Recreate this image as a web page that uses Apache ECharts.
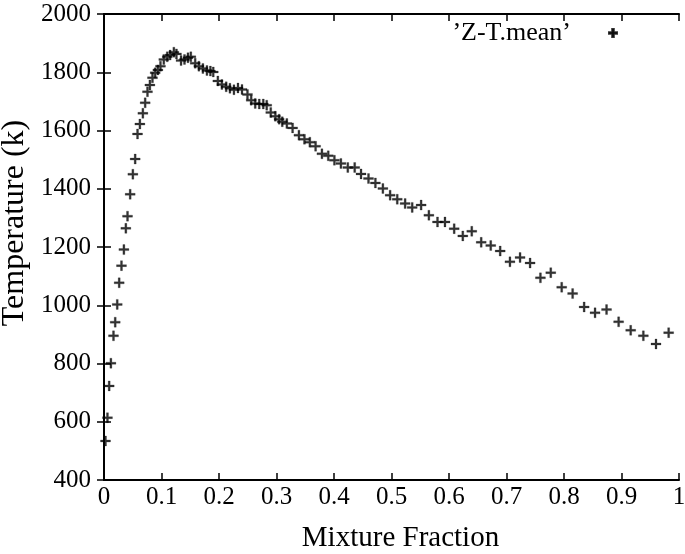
<!DOCTYPE html>
<html>
<head>
<meta charset="utf-8">
<script src="https://cdn.jsdelivr.net/npm/echarts@6/dist/echarts.min.js"></script>
<style>html,body{margin:0;padding:0;background:#fff;}#c{width:685px;height:554px;}</style>
</head>
<body>
<div id="c"></div>
<script>
const seriesName = '\u2019Z-T.mean\u2019';
const xTitle = 'Mixture Fraction';
const yTitle = 'Temperature (k)';
const mixtureFraction = [
0.0026,0.006,0.009,0.012,0.0165,0.0195,0.023,0.0264,0.0304,0.0346,0.038,0.0409,0.0455,0.0502,0.0542,0.0583,0.0624,0.0676,0.0716,0.0756,0.0798,0.0843,0.089,0.0937,0.0982,0.104,0.11,0.115,0.1215,0.126,0.134,0.14,0.146,0.151,0.1586,0.165,0.172,0.179,0.185,0.19,0.198,0.205,0.2125,0.219,0.226,0.233,0.24,0.2495,0.256,0.263,0.27,0.277,0.283,0.29,0.298,0.3046,0.31,0.318,0.328,0.339,0.3486,0.358,0.368,0.379,0.39,0.4007,0.412,0.424,0.436,0.447,0.46,0.472,0.485,0.4976,0.51,0.5237,0.536,0.5515,0.565,0.58,0.593,0.609,0.624,0.6396,0.656,0.6726,0.689,0.706,0.7236,0.741,0.759,0.777,0.796,0.815,0.835,0.854,0.874,0.895,0.916,0.938,0.96,0.982
];
const temperature = [
534,614,723,801,895,942,1003,1077,1136,1191,1264,1306,1381,1450,1502,1588,1622,1659,1695,1733,1756,1781,1798,1808,1821,1844,1853,1859,1869,1863,1840,1844,1850,1853,1831,1821,1813,1806,1804,1801,1770,1758,1750,1745,1740,1746,1741,1724,1704,1693,1691,1691,1687,1662,1649,1639,1630,1624,1609,1584,1570,1560,1546,1520,1513,1498,1487,1473,1473,1451,1435,1420,1401,1378,1364,1349,1336,1344,1309,1286,1286,1263,1238,1254,1216,1205,1186,1149,1164,1145,1094,1112,1062,1040,994,974,985,943,914,895,867,906
];
const xTicks = [0,0.1,0.2,0.3,0.4,0.5,0.6,0.7,0.8,0.9,1];
const yTicks = [400,600,800,1000,1200,1400,1600,1800,2000];

const font = 'Liberation Serif';
const plus = 'path://M4,0H6V4H10V6H6V10H4V6H0V4H4Z';
const pts = mixtureFraction.map((x, i) => [x, temperature[i]]);
const axisLine = {show: true, lineStyle: {color: '#000', width: 2}};
const tick = {show: true, inside: true, length: 7, lineStyle: {color: '#000', width: 1.5}};
const label = {color: '#000', fontFamily: font, fontSize: 25};

const chart = echarts.init(document.getElementById('c'), null, {renderer: 'canvas'});
chart.setOption({
  animation: false,
  backgroundColor: '#fff',
  grid: {left: 104, right: 6, top: 14, bottom: 74, containLabel: false, outerBoundsMode: 'none'},
  legend: {
    data: [{name: seriesName, icon: plus}],
    right: 67, top: 20, padding: 0,
    align: 'right', itemWidth: 74, itemHeight: 8,
    textStyle: {color: '#000', fontFamily: font, fontSize: 26},
    selectedMode: false
  },
  xAxis: [{
    type: 'value', min: xTicks[0], max: xTicks[xTicks.length-1], interval: 0.1,
    axisLine, axisTick: tick, splitLine: {show: false},
    axisLabel: Object.assign({margin: 5, formatter: v => String(+v.toFixed(1))}, label),
    name: xTitle, nameLocation: 'middle', nameGap: 44,
    nameTextStyle: {color: '#000', fontFamily: font, fontSize: 29, padding: [0, 0, 0, 18]}
  }, {
    type: 'value', position: 'top', min: 0, max: 1, interval: 0.1,
    axisLine, axisTick: tick, splitLine: {show: false}, axisLabel: {show: false}
  }],
  yAxis: [{
    type: 'value', min: yTicks[0], max: yTicks[yTicks.length-1], interval: 200,
    axisLine, axisTick: tick, splitLine: {show: false},
    axisLabel: Object.assign({margin: 13, formatter: v => String(v)}, label),
    name: yTitle, nameLocation: 'middle', nameGap: 56,
    nameTextStyle: {color: '#000', fontFamily: font, fontSize: 32, padding: [0, 0, 0, 48]}
  }, {
    type: 'value', position: 'right', min: 400, max: 2000, interval: 200,
    axisLine, axisTick: tick, splitLine: {show: false}, axisLabel: {show: false}
  }],
  series: [{
    name: seriesName, type: 'scatter', data: pts,
    symbol: plus, symbolSize: 10,
    itemStyle: {color: '#000', borderColor: '#000', borderWidth: 0.25}
  }]
});
</script>
</body>
</html>
